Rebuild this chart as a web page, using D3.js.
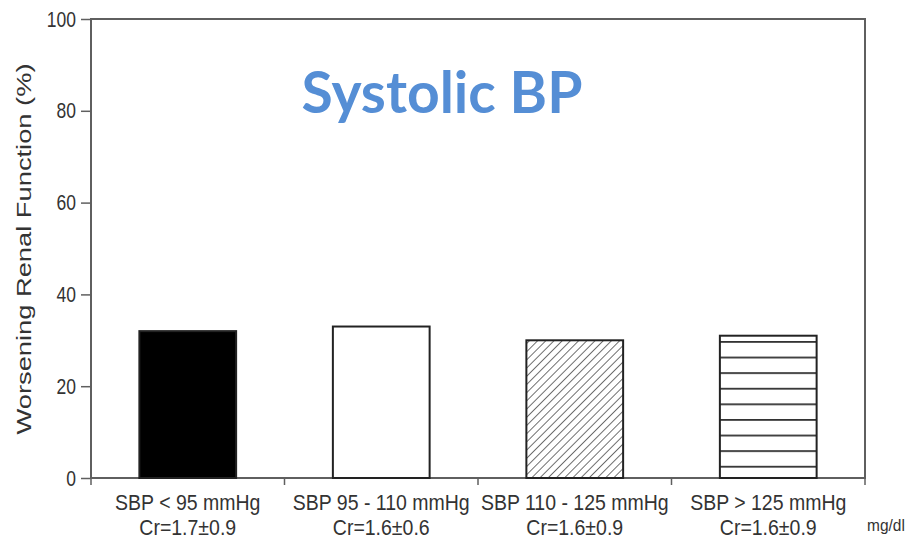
<!DOCTYPE html>
<html lang="en">
<head>
<meta charset="utf-8">
<title>Systolic BP</title>
<script src="https://cdn.jsdelivr.net/npm/d3@7"></script>
<style>
  body { margin: 0; background: #fff; }
  text { font-family: "Liberation Sans", Arial, sans-serif; fill: #333; }
</style>
</head>
<body>
<script>
// data
var groups = ["SBP < 95 mmHg", "SBP 95 - 110 mmHg", "SBP 110 - 125 mmHg", "SBP > 125 mmHg"];
var creat = ["Cr=1.7\u00b10.9", "Cr=1.6\u00b10.6", "Cr=1.6\u00b10.9", "Cr=1.6\u00b10.9"];
var worsening = [32, 33, 30, 31];
var fills = ["solid", "empty", "diag", "horiz"];
var yTicks = [0, 20, 40, 60, 80, 100];

var W = 907, H = 543;
var pl = 91, pr = 865, pt = 19, pb = 478;
var stretch = 1.25; // the scanned figure is taller than it is wide
var labStretch = 1.12;

var svg = d3.select("body").append("svg")
  .attr("width", W).attr("height", H);

var defs = svg.append("defs");
var hs = 5.8;
var diag = defs.append("pattern").attr("id", "diag")
  .attr("patternUnits", "userSpaceOnUse")
  .attr("width", hs).attr("height", hs)
  .attr("patternTransform", "rotate(45)");
diag.append("rect").attr("width", hs).attr("height", hs).attr("fill", "#fff");
diag.append("line").attr("x1", 0).attr("y1", 0).attr("x2", 0).attr("y2", hs)
  .attr("stroke", "#333").attr("stroke-width", 1.4);

var horiz = defs.append("pattern").attr("id", "horiz")
  .attr("patternUnits", "userSpaceOnUse")
  .attr("width", 20).attr("height", 15.6)
  .attr("y", 341 % 15.6);
horiz.append("rect").attr("width", 20).attr("height", 15.6).attr("fill", "#fff");
horiz.append("line").attr("x1", 0).attr("y1", 0.8).attr("x2", 20).attr("y2", 0.8)
  .attr("stroke", "#333").attr("stroke-width", 2);

var x = d3.scaleBand().domain(groups).range([pl, pr])
  .paddingInner(0.5).paddingOuter(0.25);
var y = d3.scaleLinear().domain([0, 100]).range([pb, pt]);

// frame
svg.append("rect")
  .attr("x", pl).attr("y", pt)
  .attr("width", pr - pl).attr("height", pb - pt)
  .attr("fill", "none").attr("stroke", "#5f5f5f").attr("stroke-width", 2);

// y axis
var yAxis = d3.axisLeft(y).tickValues(yTicks).tickSize(10).tickPadding(5);
var gy = svg.append("g").attr("transform", "translate(" + pl + ",0)").call(yAxis);
gy.select(".domain").remove();
gy.selectAll("line").attr("stroke", "#5f5f5f").attr("stroke-width", 1.5);
gy.selectAll("text").attr("font-size", 17.5).attr("fill", "#333")
  .attr("transform", "scale(1," + stretch + ")")
  .style("font-family", "'Liberation Sans', Arial, sans-serif");

svg.append("text")
  .attr("transform", "translate(31,249) rotate(-90) scale(1.3,1)")
  .attr("text-anchor", "middle").attr("font-size", 21)
  .text("Worsening Renal Function (%)");

// x ticks at group boundaries
var edges = d3.range(groups.length + 1).map(function(i) { return pl + i * x.step(); });
svg.selectAll(".xtick").data(edges).enter().append("line")
  .attr("x1", function(d) { return d; }).attr("x2", function(d) { return d; })
  .attr("y1", pb).attr("y2", pb + 7)
  .attr("stroke", "#5f5f5f").attr("stroke-width", 1.5);

// bars
svg.selectAll(".bar").data(groups).enter().append("rect")
  .attr("x", function(d) { return x(d); })
  .attr("y", function(d, i) { return y(worsening[i]); })
  .attr("width", x.bandwidth())
  .attr("height", function(d, i) { return pb - y(worsening[i]); })
  .attr("fill", function(d, i) {
    if (fills[i] == "solid") return "#000";
    if (fills[i] == "empty") return "#fff";
    return "url(#" + fills[i] + ")";
  })
  .attr("stroke", "#222").attr("stroke-width", 2);

// category labels
svg.selectAll(".lab1").data(groups).enter().append("text")
  .attr("transform", function(d) {
    return "translate(" + (x(d) + x.bandwidth() / 2) + ",510) scale(1," + labStretch + ")";
  })
  .attr("text-anchor", "middle").attr("font-size", 19.5)
  .text(function(d) { return d; });
svg.selectAll(".lab2").data(creat).enter().append("text")
  .attr("transform", function(d, i) {
    return "translate(" + (x(groups[i]) + x.bandwidth() / 2) + ",535) scale(1," + labStretch + ")";
  })
  .attr("text-anchor", "middle").attr("font-size", 19.5)
  .text(function(d) { return d; });
svg.append("text").attr("transform", "translate(867,531) scale(1," + labStretch + ")")
  .attr("font-size", 15.5).text("mg/dl");

// title
svg.append("text").attr("x", 442).attr("y", 113).attr("text-anchor", "middle")
  .attr("font-size", 57).attr("font-weight", "bold")
  .style("font-family", "Lato, 'Open Sans', sans-serif").style("fill", "#558ed5")
  .text("Systolic BP");
</script>
</body>
</html>
